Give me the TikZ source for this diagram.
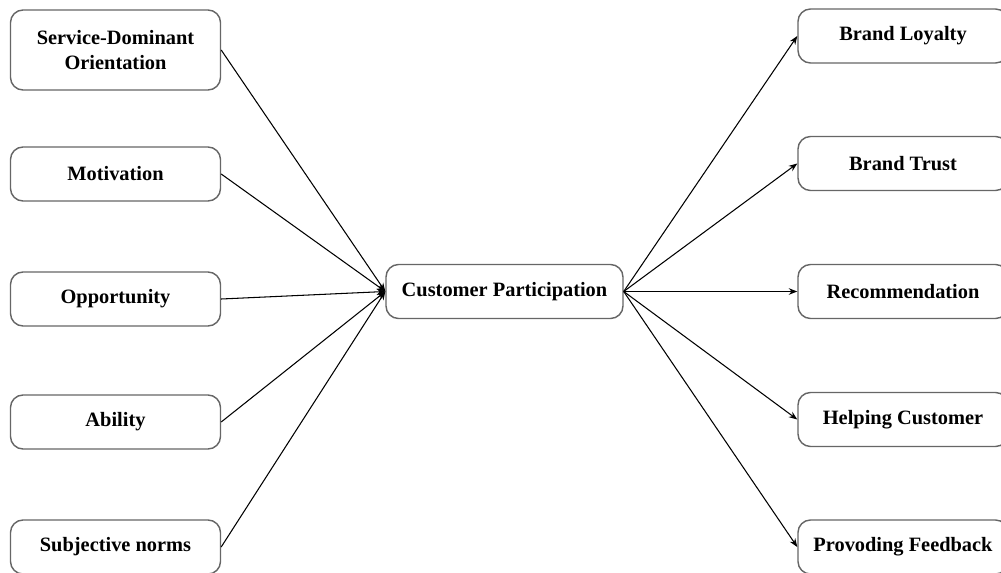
\documentclass[tikz,border=0pt]{standalone}
\usepackage{fontspec}
\setmainfont{Liberation Serif}
\usetikzlibrary{arrows.meta}
\tikzset{
    >={Stealth[length=1.7mm, width=1.3mm]},
    factor/.style = {draw=black!60, line width=0.8pt, rounded corners=2.5mm,
                     fill=white, minimum width=4.2cm, minimum height=1.08cm,
                     align=center, font=\fontsize{11.6}{14}\selectfont\bfseries},
    link/.style = {->, line width=0.6pt},
}

\begin{document}
\begin{tikzpicture}
    \useasboundingbox (0,0) rectangle (20.02,-11.46);

    % antecedents
    \node[factor, minimum height=1.6cm] (sdo) at (2.31,-1.0) {Service-Dominant\\Orientation};
    \node[factor] (mot)  at (2.31,-3.48) {Motivation};
    \node[factor] (opp)  at (2.31,-5.98) {Opportunity};
    \node[factor] (abi)  at (2.31,-8.44) {Ability};
    \node[factor] (norm) at (2.31,-10.94) {Subjective norms};

    \node[factor, minimum width=4.74cm] (cp) at (10.09,-5.83) {Customer Participation};

    % outcomes
    \node[factor] (loyal) at (18.06,-0.72) {Brand Loyalty};
    \node[factor] (trust) at (18.06,-3.27) {Brand Trust};
    \node[factor] (rec)   at (18.06,-5.83) {Recommendation};
    \node[factor] (help)  at (18.06,-8.39) {Helping Customer};
    \node[factor] (feed)  at (18.06,-10.94) {Provoding Feedback};

    \foreach \src in {sdo, mot, opp, abi, norm}
        \draw[link] (\src.east) -- (cp.west);
    \foreach \dst in {loyal, trust, rec, help, feed}
        \draw[link] (cp.east) -- (\dst.west);
\end{tikzpicture}
\end{document}
